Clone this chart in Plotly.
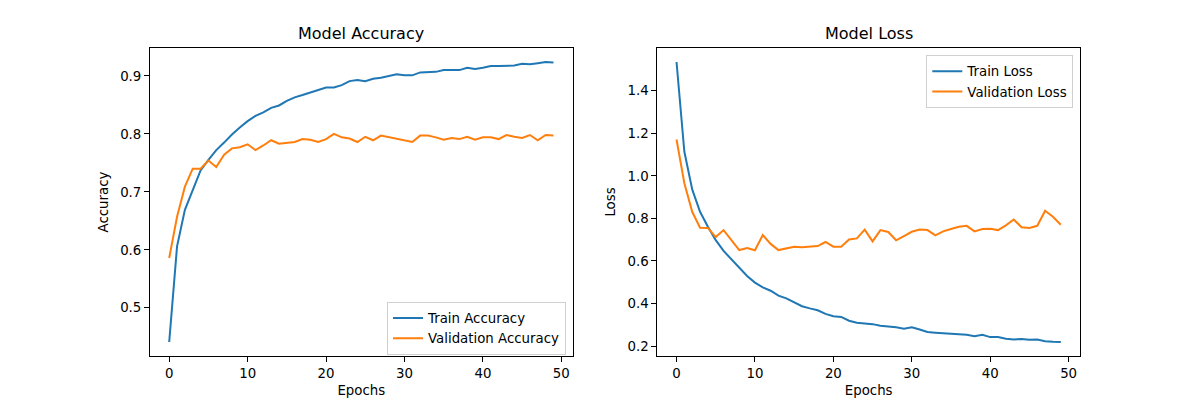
import plotly.graph_objects as go

epochs = list(range(50))

train_acc = [0.441, 0.606, 0.669, 0.703, 0.737, 0.755, 0.772, 0.785, 0.799, 0.811,
             0.822, 0.831, 0.837, 0.845, 0.849, 0.857, 0.863, 0.867, 0.871, 0.875,
             0.880, 0.880, 0.884, 0.891, 0.893, 0.891, 0.895, 0.897, 0.900, 0.903,
             0.901, 0.901, 0.906, 0.907, 0.907, 0.910, 0.910, 0.910, 0.914, 0.912,
             0.914, 0.917, 0.917, 0.918, 0.918, 0.921, 0.920, 0.922, 0.924, 0.923]

val_acc = [0.586, 0.657, 0.709, 0.740, 0.740, 0.754, 0.743, 0.764, 0.775, 0.777,
           0.782, 0.772, 0.780, 0.789, 0.783, 0.784, 0.786, 0.791, 0.790, 0.786,
           0.791, 0.800, 0.794, 0.792, 0.786, 0.795, 0.789, 0.797, 0.794, 0.792,
           0.788, 0.786, 0.797, 0.797, 0.794, 0.790, 0.793, 0.791, 0.795, 0.790,
           0.794, 0.794, 0.791, 0.798, 0.795, 0.793, 0.798, 0.789, 0.798, 0.797]

train_loss = [1.535, 1.113, 0.936, 0.831, 0.761, 0.698, 0.647, 0.609, 0.568, 0.529,
              0.498, 0.476, 0.460, 0.437, 0.424, 0.405, 0.387, 0.377, 0.368, 0.351,
              0.340, 0.337, 0.319, 0.310, 0.307, 0.303, 0.295, 0.293, 0.288, 0.281,
              0.288, 0.278, 0.266, 0.263, 0.260, 0.256, 0.255, 0.253, 0.246, 0.253,
              0.242, 0.242, 0.234, 0.231, 0.233, 0.230, 0.231, 0.223, 0.220, 0.219]

val_loss = [1.171, 0.965, 0.831, 0.756, 0.755, 0.712, 0.745, 0.698, 0.651, 0.661,
            0.650, 0.722, 0.680, 0.651, 0.658, 0.667, 0.664, 0.667, 0.670, 0.689,
            0.667, 0.667, 0.701, 0.706, 0.747, 0.692, 0.745, 0.736, 0.697, 0.717,
            0.737, 0.748, 0.745, 0.720, 0.739, 0.750, 0.761, 0.765, 0.739, 0.750,
            0.751, 0.745, 0.767, 0.795, 0.758, 0.755, 0.765, 0.836, 0.808, 0.770]

acc_ticks = [0.5, 0.6, 0.7, 0.8, 0.9]
loss_ticks = [0.2, 0.4, 0.6, 0.8, 1.0, 1.2, 1.4]
epoch_ticks = [0, 10, 20, 30, 40, 50]

BLUE = "#1f77b4"
ORANGE = "#ff7f0e"
FONT = "DejaVu Sans"
FS = 13.33


def padded(vals, frac=0.05):
    lo, hi = min(vals), max(vals)
    d = (hi - lo) * frac
    return [lo - d, hi + d]


fig = go.Figure()
fig.add_trace(go.Scatter(x=epochs, y=train_acc, mode="lines", name="Train Accuracy",
                         line=dict(color=BLUE, width=2), xaxis="x", yaxis="y", legend="legend"))
fig.add_trace(go.Scatter(x=epochs, y=val_acc, mode="lines", name="Validation Accuracy",
                         line=dict(color=ORANGE, width=2), xaxis="x", yaxis="y", legend="legend"))
fig.add_trace(go.Scatter(x=epochs, y=train_loss, mode="lines", name="Train Loss",
                         line=dict(color=BLUE, width=2), xaxis="x2", yaxis="y2", legend="legend2"))
fig.add_trace(go.Scatter(x=epochs, y=val_loss, mode="lines", name="Validation Loss",
                         line=dict(color=ORANGE, width=2), xaxis="x2", yaxis="y2", legend="legend2"))

axis_common = dict(showline=True, linecolor="black", linewidth=1, mirror=True,
                   ticks="outside", ticklen=5, tickwidth=1, tickcolor="black",
                   showgrid=False, zeroline=False, automargin=False,
                   tickfont=dict(family=FONT, size=FS, color="black"))

xr = padded(epochs)
fig.update_layout(
    width=1200, height=400,
    margin=dict(l=150, r=120, t=48, b=44),
    paper_bgcolor="white", plot_bgcolor="white",
    font=dict(family=FONT, size=FS, color="black"),
    xaxis=dict(domain=[0, 0.4545], range=xr, tickvals=epoch_ticks, anchor="y",
               title=dict(text="Epochs", standoff=5, font=dict(size=FS)), **axis_common),
    yaxis=dict(domain=[0, 1], range=padded(train_acc + val_acc), tickvals=acc_ticks,
               tickformat=".1f", anchor="x",
               title=dict(text="Accuracy", standoff=8, font=dict(size=FS)), **axis_common),
    xaxis2=dict(domain=[0.5455, 1], range=xr, tickvals=epoch_ticks, anchor="y2",
                title=dict(text="Epochs", standoff=5, font=dict(size=FS)), **axis_common),
    yaxis2=dict(domain=[0, 1], range=padded(train_loss + val_loss), tickvals=loss_ticks,
                tickformat=".1f", anchor="x2",
                title=dict(text="Loss", standoff=8, font=dict(size=FS)), **axis_common),
    legend=dict(x=0.4473, y=0.004, xanchor="right", yanchor="bottom",
                bgcolor="rgba(255,255,255,0.8)", bordercolor="#d0d0d0", borderwidth=1,
                font=dict(family=FONT, size=FS), itemwidth=30, tracegroupgap=0),
    legend2=dict(x=0.9928, y=0.977, xanchor="right", yanchor="top",
                 bgcolor="rgba(255,255,255,0.8)", bordercolor="#d0d0d0", borderwidth=1,
                 font=dict(family=FONT, size=FS), itemwidth=30, tracegroupgap=0),
    annotations=[
        dict(text="Model Accuracy", x=0.4545 / 2, y=1, xref="paper", yref="paper",
             xanchor="center", yanchor="bottom", yshift=3, showarrow=False,
             font=dict(family=FONT, size=16, color="black")),
        dict(text="Model Loss", x=(0.5455 + 1) / 2, y=1, xref="paper", yref="paper",
             xanchor="center", yanchor="bottom", yshift=3, showarrow=False,
             font=dict(family=FONT, size=16, color="black")),
    ],
)

fig.write_html("out.html", config={"displayModeBar": False},
               post_script="document.body.style.margin='0';")
